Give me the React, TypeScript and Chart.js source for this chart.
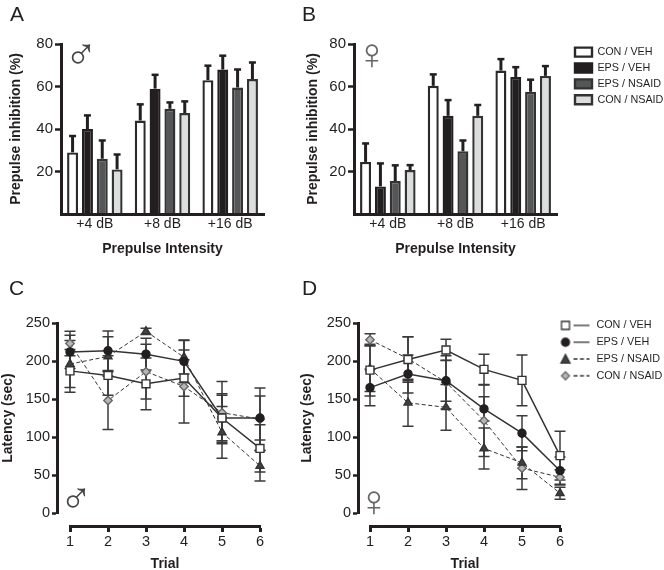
import React, { useEffect, useRef } from "react";
import { Chart, registerables } from "chart.js";

Chart.register(...registerables);

const FONT = "'Liberation Sans', Arial, sans-serif";
const INK = "#231f20";

const groupNames = ["CON / VEH", "EPS / VEH", "EPS / NSAID", "CON / NSAID"];
const intensities = ["+4 dB", "+8 dB", "+16 dB"];
const trials = [1, 2, 3, 4, 5, 6];

// Panel A (male PPI): means and upper whisker tips
const maleConVeh = [29, 44, 63];
const maleEpsVeh = [40, 59, 68];
const maleEpsNsaid = [26, 49.5, 59.5];
const maleConNsaid = [21, 47.5, 63.5];
const maleConVehTop = [36.7, 51.6, 69.8];
const maleEpsVehTop = [46.4, 65.5, 74.5];
const maleEpsNsaidTop = [34.6, 52.5, 68];
const maleConNsaidTop = [28, 53, 71.3];

// Panel B (female PPI)
const femaleConVeh = [24.5, 60.3, 67.5];
const femaleEpsVeh = [13, 46.2, 64.5];
const femaleEpsNsaid = [15.5, 29.5, 57.5];
const femaleConNsaid = [20.7, 46.2, 65];
const femaleConVehTop = [33.2, 65.7, 72.9];
const femaleEpsVehTop = [23.8, 53.6, 69.1];
const femaleEpsNsaidTop = [22.9, 34.6, 63.2];
const femaleConNsaidTop = [23, 51.3, 69.6];

// Panel C (male latency): means and half error bars
const cConVeh = [187, 181, 170, 177.5, 125, 85];
const cEpsVeh = [212, 213.5, 209, 199.5, 125, 125];
const cEpsNsaid = [196, 206, 239, 205, 106, 62];
const cConNsaid = [223, 148, 186, 166.5, 132, 123.5];
const cConVehErr = [28, 26, 34, 24, 32, 31];
const cEpsVehErr = [22, 26, 21, 28, 30, 29];
const cEpsNsaidErr = [31, 26, 4, 22, 34, 20];
const cConNsaidErr = [16, 38, 36, 48, 41, 41];

// Panel D (female latency)
const dConVeh = [188, 202, 214.5, 189, 174.5, 75.5];
const dEpsVeh = [165, 183, 174, 137, 105, 55.7];
const dEpsNsaid = [190, 145, 139, 85, 66, 26];
const dConNsaid = [228, 203, 172, 121.5, 59, 47];
const dConVehErr = [34, 30, 14, 20, 33.5, 32];
const dEpsVehErr = [24, 25, 27, 16, 23, 18];
const dEpsNsaidErr = [30, 31, 30, 27, 21, 8];
const dConNsaidErr = [8, 29, 35, 47, 28, 10];

const barFills = ["#ffffff", "#231f20", "#555657", "#dcdddd"];
const barBorders = ["#2a2a2a", "#231f20", "#333333", "#333333"];
const markerStyles = ["rect", "circle", "triangle", "rectRot"];
const markerRadii = [5.6, 4, 4.6, 4.2];
const markerFills = ["#ffffff", "#231f20", "#3f4041", "#b5b6b6"];
const markerBorders = ["#333333", "#231f20", "#333333", "#666666"];

const errorBars = {
  id: "errorBars",
  beforeDatasetsDraw(chart: any) {
    const { ctx } = chart;
    const y = chart.scales.y;
    chart.data.datasets.forEach((ds: any, di: number) => {
      const pts = chart.getDatasetMeta(di).data;
      pts.forEach((pt: any, i: number) => {
        const px = pt.x;
        ctx.save();
        ctx.strokeStyle = ds.errColor;
        ctx.lineWidth = ds.errWidth;
        const tops = ds.errTop ? ds.errTop[i] : ds.data[i].y + ds.errors[i];
        const lows = ds.errTop ? ds.data[i] : ds.data[i].y - ds.errors[i];
        const t = y.getPixelForValue(tops);
        const b = y.getPixelForValue(lows);
        ctx.beginPath();
        ctx.moveTo(px, t);
        ctx.lineTo(px, b);
        ctx.stroke();
        ctx.lineWidth = ds.capWidth;
        ctx.beginPath();
        ctx.moveTo(px - ds.capHalf, t);
        ctx.lineTo(px + ds.capHalf, t);
        if (!ds.errTop) {
          ctx.moveTo(px - ds.capHalf, b);
          ctx.lineTo(px + ds.capHalf, b);
        }
        ctx.stroke();
        ctx.restore();
      });
    });
  },
};

function placeLegend(x: number, center: number) {
  return {
    id: "placeLegend",
    afterLayout(chart: any) {
      const lg = chart.legend;
      if (!lg) return;
      const pad = lg.options.labels.padding;
      lg.left = x - pad;
      lg.right = chart.width;
      lg.top = center - 6 - pad;
      lg.bottom = lg.top + 120;
    },
  };
}

function shiftAxes(dx: number, dy: number) {
  return {
    id: "shiftAxes",
    afterLayout(chart: any) {
      const { x, y } = chart.scales;
      y.left -= dx;
      y.right -= dx;
      x.top += dy;
      x.bottom += dy;
    },
  };
}

function sprite(i: number) {
  const c = document.createElement("canvas");
  c.width = 32;
  c.height = 14;
  const g = c.getContext("2d") as CanvasRenderingContext2D;
  g.strokeStyle = "#333";
  g.lineWidth = 1.3;
  g.setLineDash(i < 2 ? [] : [4, 2.5]);
  g.beginPath();
  g.moveTo(15, 7);
  g.lineTo(31, 7);
  g.stroke();
  g.setLineDash([]);
  g.fillStyle = markerFills[i];
  g.strokeStyle = markerBorders[i];
  g.beginPath();
  if (i === 0) g.rect(3, 3, 8, 8);
  if (i === 1) g.arc(7, 7, 4, 0, Math.PI * 2);
  if (i === 2) {
    g.moveTo(7, 2.5);
    g.lineTo(11.5, 11);
    g.lineTo(2.5, 11);
    g.closePath();
  }
  if (i === 3) {
    g.moveTo(7, 3);
    g.lineTo(11, 7);
    g.lineTo(7, 11);
    g.lineTo(3, 7);
    g.closePath();
  }
  g.fill();
  g.stroke();
  return c;
}

function yScale(max: number, step: number, title: string, titleTop: number, width: number, hideZero: boolean, tick: number, size: number) {
  return {
    min: 0,
    max,
    afterFit: (s: any) => {
      s.width = width;
    },
    afterBuildTicks: (s: any) => {
      if (hideZero) s.ticks = s.ticks.filter((t: any) => t.value !== 0);
    },
    border: { width: 3, color: INK, z: 1 },
    grid: { drawOnChartArea: false, tickLength: tick, tickWidth: 2.5, tickColor: INK },
    ticks: { stepSize: step, padding: 2, color: INK, font: { family: FONT, size } },
    title: {
      display: true,
      text: title,
      color: INK,
      padding: { top: titleTop, bottom: 0 },
      font: { family: FONT, size: 14, weight: "bold" },
    },
  };
}

function barConfig(values: number[][], tops: number[][], yWidth: number, titleTop: number, canvasW: number, legend: boolean): any {
  return {
    type: "bar",
    data: {
      labels: intensities,
      datasets: groupNames.map((label, i) => ({
        label,
        data: values[i],
        errTop: tops[i],
        errColor: INK,
        errWidth: 3,
        capWidth: 2.5,
        capHalf: 3.5,
        backgroundColor: barFills[i],
        borderColor: barBorders[i],
        borderWidth: 2.4,
        barPercentage: 0.74,
        categoryPercentage: 0.877,
      })),
    },
    options: {
      responsive: false,
      animation: false,
      devicePixelRatio: 1,
      layout: { padding: { left: 0, top: 44, right: canvasW - 203 - yWidth, bottom: 0 } },
      plugins: {
        title: { display: false },
        tooltip: { enabled: false },
        legend: {
          display: legend,
          position: "chartArea",
          align: "start",
          labels: {
            boxWidth: 17,
            boxHeight: 9,
            padding: 5.1,
            color: INK,
            font: { family: FONT, size: 10.8 },
          },
        },
      },
      scales: {
        x: {
          afterFit: (s: any) => {
            s.height = 56;
          },
          border: { width: 3, color: INK, z: 1 },
          grid: { display: false, drawTicks: false, tickLength: 0 },
          ticks: { padding: 2, color: INK, font: { family: FONT, size: 14 }, maxRotation: 0 },
          title: {
            display: true,
            text: "Prepulse Intensity",
            color: INK,
            padding: { top: 0, bottom: 12.6 },
            font: { family: FONT, size: 14, weight: "bold" },
          },
        },
        y: yScale(80, 20, "Prepulse inhibition (%)", titleTop, yWidth, true, 6, 15),
      },
    },
  };
}

function lineConfig(values: number[][], errs: number[][], padRight: number, legend: boolean, titleTop: number): any {
  return {
    type: "line",
    data: {
      datasets: groupNames.map((label, i) => ({
        label,
        data: trials.map((t, k) => ({ x: t, y: values[i][k] })),
        errors: errs[i],
        errColor: "#3a3a3a",
        errWidth: 1.5,
        capWidth: 1.5,
        capHalf: 5.5,
        clip: false,
        tension: 0,
        borderColor: "#333333",
        borderWidth: i < 2 ? 1.5 : 1,
        borderDash: i < 2 ? [] : [4, 2.5],
        pointStyle: markerStyles[i],
        pointRadius: markerRadii[i],
        pointBackgroundColor: markerFills[i],
        pointBorderColor: markerBorders[i],
        pointBorderWidth: 1.4,
      })),
    },
    options: {
      responsive: false,
      animation: false,
      devicePixelRatio: 1,
      layout: { padding: { left: 0, top: 53, right: padRight, bottom: 0 } },
      plugins: {
        title: { display: false },
        tooltip: { enabled: false },
        legend: {
          display: legend,
          position: "chartArea",
          align: "start",
          labels: {
            usePointStyle: true,
            pointStyleWidth: 33,
            boxHeight: 12,
            padding: 6,
            color: INK,
            font: { family: FONT, size: 10.8 },
            generateLabels: () =>
              groupNames.map((text, i) => ({ text, pointStyle: sprite(i), fontColor: INK, lineWidth: 0, datasetIndex: i })),
          },
        },
      },
      scales: {
        x: {
          type: "linear",
          min: 1,
          max: 6,
          afterFit: (s: any) => {
            s.height = 300 - 243;
          },
          border: { width: 3, color: INK, z: 1 },
          grid: { drawOnChartArea: false, tickLength: 6, tickWidth: 3, tickColor: INK },
          ticks: { stepSize: 1, padding: 1, color: INK, font: { family: FONT, size: 14.5 }, maxRotation: 0 },
          title: {
            display: true,
            text: "Trial",
            color: INK,
            padding: { top: 0, bottom: 10.6 },
            font: { family: FONT, size: 14, weight: "bold" },
          },
        },
        y: yScale(250, 50, "Latency (sec)", titleTop, 70, false, 5, 14.5),
      },
    },
  };
}

const panels = [
  {
    left: 0, top: 0, w: 300, h: 270,
    config: barConfig([maleConVeh, maleEpsVeh, maleEpsNsaid, maleConNsaid], [maleConVehTop, maleEpsVehTop, maleEpsNsaidTop, maleConNsaidTop], 61, 7.6, 300, false),
    plugins: [errorBars],
  },
  {
    left: 300, top: 0, w: 364, h: 270,
    config: barConfig([femaleConVeh, femaleEpsVeh, femaleEpsNsaid, femaleConNsaid], [femaleConVehTop, femaleEpsVehTop, femaleEpsNsaidTop, femaleConNsaidTop], 54, 4.6, 364, true),
    plugins: [errorBars, placeLegend(275, 52.7)],
  },
  {
    left: 0, top: 270, w: 300, h: 300,
    config: lineConfig([cConVeh, cEpsVeh, cEpsNsaid, cConNsaid], [cConVehErr, cEpsVehErr, cEpsNsaidErr, cConNsaidErr], 40, false, 12.6),
    plugins: [errorBars, shiftAxes(13, 13)],
  },
  {
    left: 300, top: 270, w: 364, h: 300,
    config: lineConfig([dConVeh, dEpsVeh, dEpsNsaid, dConNsaid], [dConVehErr, dEpsVehErr, dEpsNsaidErr, dConNsaidErr], 104, true, 10.6),
    plugins: [errorBars, shiftAxes(12, 13), placeLegend(258, 56)],
  },
];

const letters = [
  { t: "A", x: 10, y: 3 },
  { t: "B", x: 302, y: 3 },
  { t: "C", x: 9, y: 277 },
  { t: "D", x: 302, y: 277 },
];

const signs = [
  { t: "\u2642", x: 81, y: 54, c: "#444" },
  { t: "\u2640", x: 372, y: 54, c: "#666" },
  { t: "\u2642", x: 76, y: 498, c: "#444" },
  { t: "\u2640", x: 374, y: 501, c: "#666" },
];

export default function App() {
  const refs = useRef<(HTMLCanvasElement | null)[]>([]);
  useEffect(() => {
    const charts = panels.map((p, i) => {
      const cfg = { ...p.config, plugins: p.plugins };
      return new Chart(refs.current[i] as HTMLCanvasElement, cfg);
    });
    return () => charts.forEach((c) => c.destroy());
  }, []);
  return (
    <div style={{ position: "absolute", left: 0, top: 0, width: 664, height: 570, overflow: "hidden", background: "#fff" }}>
      {panels.map((p, i) => (
        <canvas
          key={i}
          ref={(el) => {
            refs.current[i] = el;
          }}
          width={p.w}
          height={p.h}
          style={{ position: "absolute", left: p.left, top: p.top, width: p.w, height: p.h }}
        />
      ))}
      {letters.map((l) => (
        <div key={l.t} style={{ position: "absolute", left: l.x, top: l.y, fontFamily: FONT, fontSize: 21, lineHeight: "21px", color: INK }}>
          {l.t}
        </div>
      ))}
      {signs.map((s, i) => (
        <div
          key={i}
          style={{
            position: "absolute",
            left: s.x - 20,
            top: s.y - 20,
            width: 40,
            height: 40,
            lineHeight: "40px",
            textAlign: "center",
            fontFamily: "'Liberation Sans', sans-serif",
            fontSize: 44,
            color: s.c,
          }}
        >
          {s.t}
        </div>
      ))}
    </div>
  );
}
